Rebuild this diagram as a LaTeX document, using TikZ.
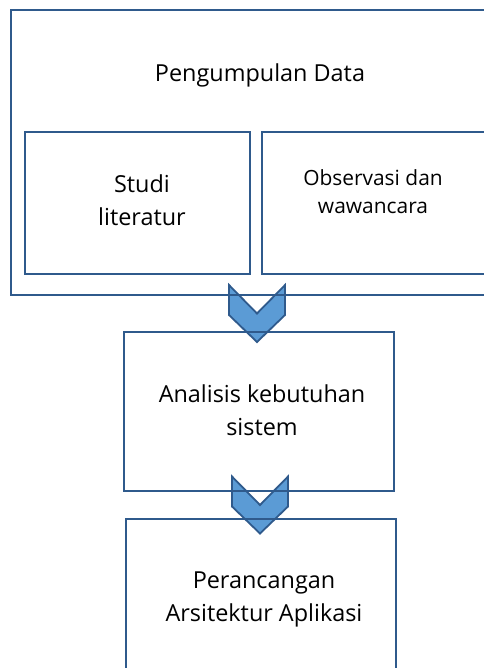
\documentclass[tikz,border=0pt]{standalone}
\usepackage{fontspec}
\setmainfont{Open Sans}
\usepackage{xcolor}
\definecolor{edge}{HTML}{2F5A8C}
\definecolor{chev}{HTML}{5B9BD5}
\usetikzlibrary{calc, backgrounds}

\begin{document}
\begin{tikzpicture}[x=1bp, y=-1bp,
    box/.style={draw=edge, line width=2bp, inner sep=0pt},
    chevron/.style={draw=edge, line width=1.8bp, fill=chev, line join=miter},
    big/.style={font=\fontsize{23.5}{33}\selectfont, align=center, anchor=base},
    small/.style={font=\fontsize{21}{28}\selectfont, align=center, anchor=base}]
    \useasboundingbox (0,0) rectangle (484,668);

    % Boxes
    \node[box, minimum width=488bp, minimum height=285bp] (pengumpulan) at (255,152.5) {};
    \node[box, minimum width=225bp, minimum height=142bp] (studi) at (137.5,203) {};
    \node[box, minimum width=226bp, minimum height=142bp] (observasi) at (375,203) {};
    \node[box, minimum width=270bp, minimum height=159bp] (analisis) at (259,411.5) {};
    \node[box, minimum width=270bp, minimum height=159bp] (perancangan) at (261,598.5) {};

    % Texts (base = baseline of the last line)
    \node[big] (pengumpulan-txt) at (260,81.7) {Pengumpulan Data};
    \node[big] (studi-txt) at (142,225) {Studi\\literatur};
    \node[small] (observasi-txt) at (373,213.3) {Observasi dan\\wawancara};
    \node[big] (analisis-txt) at (262,435) {Analisis kebutuhan\\sistem};
    \node[big] (perancangan-txt) at (264,621.7) {Perancangan\\Arsitektur Aplikasi};

    % Chevrons between the steps
    \coordinate (step1) at ($(pengumpulan.south)!0.5!(analisis.north)$);
    \coordinate (step2) at ($(analisis.south)!0.5!(perancangan.north)$);
    \begin{scope}[on background layer]
        \foreach \c in {step1, step2}
            \draw[chevron, shift={(\c)}] (-28,-28.5) -- ++(28,28.5) -- ++(28,-28.5) -- ++(0,30) -- ++(-28,27) -- ++(-28,-27) -- cycle;
    \end{scope}
\end{tikzpicture}
\end{document}
